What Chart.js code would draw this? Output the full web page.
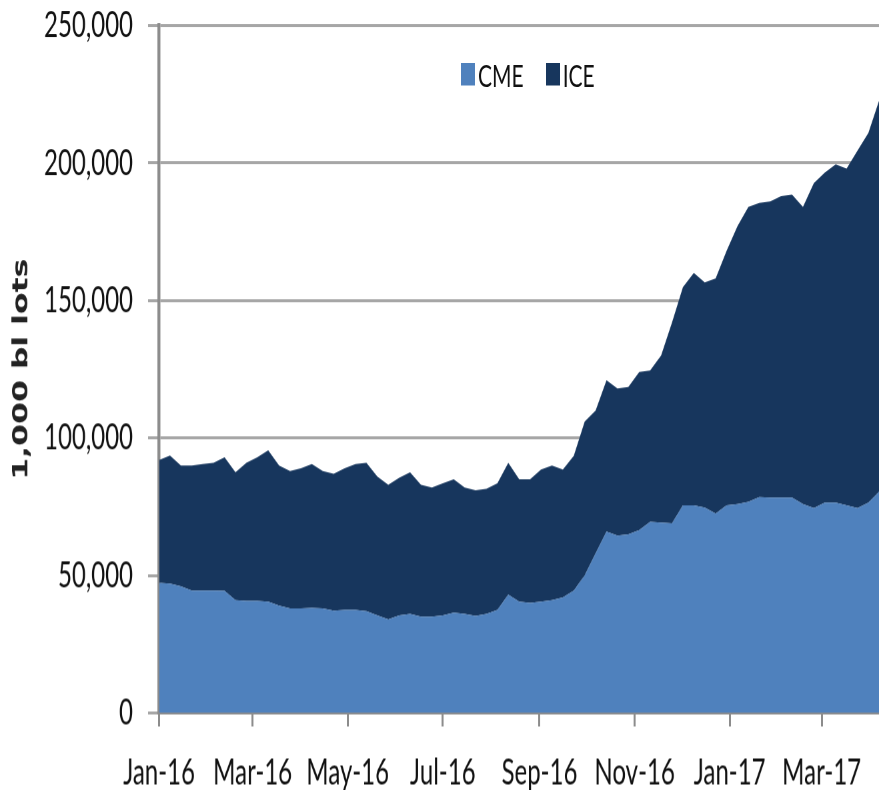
<!DOCTYPE html>
<html>
<head>
<meta charset="utf-8">
<script src="https://cdn.jsdelivr.net/npm/chart.js@4"></script>
<style>
    html, body { margin: 0; background: #fff; overflow: hidden; }
    #page { width: 879px; height: 790px; position: relative; }
    /* the original chart is stretched vertically, so draw it short and stretch it */
    #wrap { position: absolute; left: 0; top: 0; width: 879px; height: 527px; transform: scaleY(1.5); transform-origin: 0 0; }
    #legend { position: absolute; left: 461px; top: 42px; display: flex; align-items: center; font: 21px Lato, sans-serif; line-height: 15px; color: #111; }
    #legend span.item { display: flex; align-items: center; margin-right: 22px; }
    #legend span.box { display: inline-block; width: 14px; height: 15px; margin-right: 3px; }
</style>
</head>
<body>
<div id="page">
<div id="wrap">
    <canvas id="oi-chart" width="879" height="527"></canvas>
    <div id="legend"></div>
</div>
</div>
<script>
// weekly open interest, starting the first week of Jan 2016
const startDate = '2016-01-01';
const cme = [47300, 47000, 46000, 44500, 44500, 44500, 44400, 41000, 40800, 40800,
             40500, 39000, 38000, 38000, 38200, 38000, 37200, 37500, 37500, 37000,
             35500, 34000, 35500, 36000, 35000, 35000, 35500, 36500, 36000, 35300,
             36000, 37500, 43000, 40500, 40000, 40500, 41000, 42000, 44500, 50000,
             58000, 66000, 64500, 65000, 66500, 69500, 69200, 69000, 75500, 75500,
             74700, 72500, 75500, 76000, 76800, 78500, 78300, 78300, 78300, 76000,
             74500, 76500, 76500, 75500, 74500, 76500, 80500];
const ice = [44700, 46600, 44000, 45500, 46000, 46500, 48600, 46500, 50200, 52200,
             55000, 51000, 50000, 51000, 52300, 50000, 49800, 51500, 53000, 54000,
             50500, 49000, 50000, 51500, 48000, 47000, 48000, 48500, 46000, 45700,
             45500, 46000, 48000, 44500, 45000, 48000, 49000, 46500, 49000, 56000,
             52000, 55000, 53500, 53500, 57500, 55000, 60800, 73000, 79300, 84500,
             81900, 85500, 92500, 101000, 107200, 107000, 107700, 109700, 110200, 108000,
             118200, 120000, 123000, 122500, 130000, 134500, 142500];
const tickDates = ['2016-01-01', '2016-03-01', '2016-05-01', '2016-07-01', '2016-09-01', '2016-11-01', '2017-01-01', '2017-03-01'];
const tickLabels = ['Jan-16', 'Mar-16', 'May-16', 'Jul-16', 'Sep-16', 'Nov-16', 'Jan-17', 'Mar-17'];
const seriesNames = ['CME', 'ICE'];
const seriesColors = ['#4f81bd', '#17365d'];

const DAY = 86400000;
const dayOf = d => Math.round((new Date(d) - new Date(startDate)) / DAY);
const tickDays = tickDates.map(dayOf);
const toPoints = arr => arr.map((v, i) => ({ x: i * 7, y: v }));
const lastDay = (cme.length - 1) * 7;

// legend sits inside the plot, so it's plain html on top of the canvas
const legendEl = document.getElementById('legend');
seriesNames.forEach((name, i) => {
    legendEl.insertAdjacentHTML('beforeend',
        `<span class="item"><span class="box" style="background:${seriesColors[i]}"></span>${name}</span>`);
});

new Chart(document.getElementById('oi-chart').getContext('2d'), {
    type: 'line',
    data: {
        datasets: [
            { label: seriesNames[0], data: toPoints(cme), backgroundColor: seriesColors[0], fill: 'origin' },
            { label: seriesNames[1], data: toPoints(ice), backgroundColor: seriesColors[1], fill: '-1' }
        ]
    },
    options: {
        responsive: false,
        animation: false,
        devicePixelRatio: 1.5,
        layout: { padding: { top: 17, right: 0, left: 0, bottom: 0 } },
        elements: {
            point: { radius: 0 },
            line: { borderWidth: 0, tension: 0 }
        },
        plugins: {
            legend: { display: false },
            tooltip: { enabled: false }
        },
        scales: {
            x: {
                type: 'linear',
                min: 0,
                max: lastDay,
                afterBuildTicks: scale => { scale.ticks = tickDays.map(v => ({ value: v })); },
                afterFit: scale => { scale.paddingLeft = 0; scale.paddingRight = 0; scale.height = 52; },
                grid: { drawOnChartArea: false, color: '#8c8c8c', lineWidth: 2, tickLength: 9 },
                border: { color: '#8c8c8c', width: 2 },
                ticks: {
                    callback: (v, i) => tickLabels[i],
                    color: '#111',
                    font: { family: 'Lato', size: 24, lineHeight: 1 },
                    padding: 19,
                    maxRotation: 0,
                    autoSkip: false
                }
            },
            y: {
                stacked: true,
                min: 0,
                max: 250000,
                afterFit: scale => { scale.width = 159; scale.paddingTop = 0; scale.paddingBottom = 0; },
                grid: { color: '#a6a6a6', lineWidth: 2, tickLength: 11 },
                border: { color: '#8c8c8c', width: 3 },
                ticks: {
                    stepSize: 50000,
                    callback: v => v.toLocaleString('en-US'),
                    color: '#111',
                    font: { family: 'Lato', size: 24 },
                    padding: 15
                },
                title: {
                    display: true,
                    text: '1,000 bl lots',
                    color: '#222',
                    font: { family: "'DejaVu Sans', Verdana, sans-serif", size: 21, weight: 'bold' },
                    padding: { top: 9, bottom: 0 }
                }
            }
        }
    }
});
</script>
</body>
</html>
